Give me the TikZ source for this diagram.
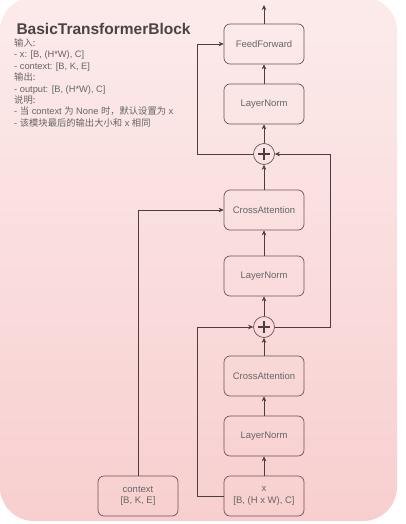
\documentclass[tikz,border=0pt]{standalone}
\usepackage{fontspec}
\setmainfont{Liberation Sans}
\newfontfamily\cjk{Noto Sans CJK SC}
\usetikzlibrary{arrows.meta}
\definecolor{bgtop}{HTML}{FCEBEB}
\definecolor{bgbot}{HTML}{F8CFCF}
\definecolor{lnc}{HTML}{4F3C3C}
\definecolor{boxc}{HTML}{6E5555}
\definecolor{txtc}{HTML}{666666}
\definecolor{titlec}{HTML}{4A4444}
\tikzset{
  blk/.style={draw=boxc, line width=0.7pt, rounded corners=6pt, minimum width=80pt, minimum height=40pt,
    inner sep=0pt, text=txtc, font=\fontsize{9.5}{11.5}\selectfont, align=center},
  addn/.style={draw=boxc, line width=0.7pt, circle, minimum size=21pt, inner sep=0pt,
    path picture={\draw[lnc, line width=1.5pt]
      ([xshift=-6pt]path picture bounding box.center) -- ([xshift=6pt]path picture bounding box.center)
      ([yshift=-6pt]path picture bounding box.center) -- ([yshift=6pt]path picture bounding box.center);}},
  arr/.style={draw=lnc, line width=0.7pt, -{Stealth[length=5pt,width=4.5pt]}},
  ln/.style={draw=lnc, line width=0.7pt}
}
\begin{document}
\begin{tikzpicture}[x=1pt,y=-1pt]
\useasboundingbox (0,0) rectangle (405,524);
\shade[top color=bgtop, bottom color=bgbot, rounded corners=34pt] (0,-3) rectangle (397,521);

\node[anchor=base west, text=titlec, font=\fontsize{15.5}{18}\selectfont\bfseries] (title) at (13,35) {BasicTransformerBlock};
\node[anchor=north west, text=txtc, align=left, inner sep=0pt, font=\fontsize{9.3}{11.4}\selectfont] (desc) at (14,38.5)
{{\cjk 输入:}\\
- x: [B, (H*W), C]\\
- context: [B, K, E]\\
{\cjk 输出:}\\
- output: [B, (H*W), C]\\
{\cjk 说明:}\\
- {\cjk 当} context {\cjk 为} None {\cjk 时，默认设置为} x\\
- {\cjk 该模块最后的输出大小和} x {\cjk 相同}};

\node[blk] (ff) at (264,44) {FeedForward};
\node[blk] (ln1) at (264,104) {LayerNorm};
\node[addn] (p1) at (264,154) {};
\node[blk] (ca1) at (264,210) {CrossAttention};
\node[blk] (ln2) at (264,276) {LayerNorm};
\node[addn] (p2) at (264,327) {};
\node[blk] (ca2) at (264,376) {CrossAttention};
\node[blk] (ln3) at (264,436) {LayerNorm};
\node[blk] (x) at (264,496) {x\\{}[B, (H x W), C]};
\node[blk] (ctx) at (138,496) {context\\{}[B, K, E]};

\coordinate (out) at (264,5);
\coordinate (s1) at (197,154);
\coordinate (s2) at (330,327);
\coordinate (s3) at (197,496);

\draw[arr] (ff) -- (out);
\draw[arr] (ln1) -- (ff);
\draw[arr] (p1) -- (ln1);
\draw[arr] (ca1) -- (p1);
\draw[arr] (ln2) -- (ca1);
\draw[arr] (p2) -- (ln2);
\draw[arr] (ca2) -- (p2);
\draw[arr] (ln3) -- (ca2);
\draw[arr] (x) -- (ln3);
\draw[arr] (p1.west) -- (s1) |- (ff.west);
\draw[arr] (p2.east) -- (s2) |- (p1.east);
\draw[arr] (x.west) -- (s3) |- (p2.west);
\draw[arr] (ctx.north) |- (ca1.west);
\end{tikzpicture}
\end{document}
